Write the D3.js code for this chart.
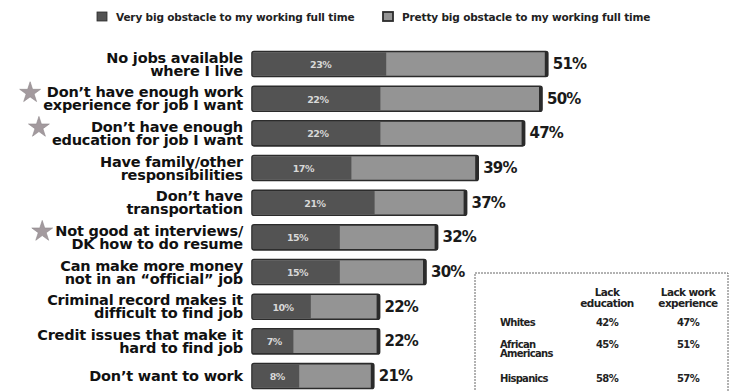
<!DOCTYPE html>
<html>
<head>
<meta charset="utf-8">
<script src="https://cdn.jsdelivr.net/npm/d3@7"></script>
<style>
  body { margin: 0; background: #fff; }
  svg text { font-family: "DejaVu Sans", "Liberation Sans", sans-serif; font-weight: bold; }
</style>
</head>
<body>
<div id="chart"></div>
<script>
// data
const categories = [
  "No jobs available|where I live",
  "Don’t have enough work|experience for job I want",
  "Don’t have enough|education for job I want",
  "Have family/other|responsibilities",
  "Don’t have|transportation",
  "Not good at interviews/|DK how to do resume",
  "Can make more money|not in an “official” job",
  "Criminal record makes it|difficult to find job",
  "Credit issues that make it|hard to find job",
  "Don’t want to work"
];
const totalObstacle = [51, 50, 47, 39, 37, 32, 30, 22, 22, 21];
const veryBig = [23, 22, 22, 17, 21, 15, 15, 10, 7, 8];
const starred = [1, 2, 5];
const seriesNames = ["Very big obstacle to my working full time", "Pretty big obstacle to my working full time"];

const tableHeads = ["Lack|education", "Lack work|experience"];
const tableGroups = ["Whites", "African|Americans", "Hispanics"];
const lackEducation = ["42%", "45%", "58%"];
const lackWork = ["47%", "51%", "57%"];

const width = 736, height = 391;
const darkGray = "#535353", lightGray = "#949494", edge = "#2b2b2b";

const svg = d3.select("#chart")
  .append("svg")
  .attr("width", width)
  .attr("height", height);

const y = d3.scaleBand()
  .domain(d3.range(categories.length))
  .range([46.7, 393.4])
  .paddingInner(0.28)
  .paddingOuter(0.14);

const x = d3.scaleLinear()
  .domain([0, 100])
  .range([252, 252 + 580]);

// legend
const legend = svg.append("g").attr("transform", "translate(97,12)");
const legX = [0, 286];
seriesNames.forEach((s, i) => {
  const g = legend.append("g").attr("transform", `translate(${legX[i]},0)`);
  g.append("rect").attr("width", 10).attr("height", 9)
    .attr("fill", i == 0 ? darkGray : lightGray)
    .attr("stroke", edge).attr("stroke-width", i == 0 ? 0.8 : 1.8);
  g.append("text").attr("x", 19).attr("y", 8.5)
    .attr("font-size", 10.5).attr("letter-spacing", -0.15)
    .attr("fill", "#222").text(s);
});

// bars
const rows = svg.append("g")
  .selectAll("g")
  .data(categories.map((c, i) => ({c, i, total: totalObstacle[i], very: veryBig[i]})))
  .join("g");

rows.append("rect")
  .attr("x", x(0))
  .attr("y", d => y(d.i))
  .attr("width", d => x(d.total) - x(0))
  .attr("height", y.bandwidth())
  .attr("rx", 2)
  .attr("fill", lightGray)
  .attr("stroke", edge)
  .attr("stroke-width", 1.6);

rows.append("rect")
  .attr("x", x(0) + 0.8)
  .attr("y", d => y(d.i) + 0.8)
  .attr("width", d => x(d.very) - x(0))
  .attr("height", y.bandwidth() - 1.6)
  .attr("fill", darkGray);

// right end darker cap
rows.append("rect")
  .attr("x", d => x(d.total) - 3)
  .attr("y", d => y(d.i))
  .attr("width", 3)
  .attr("height", y.bandwidth())
  .attr("fill", edge);

rows.append("text")
  .attr("x", d => (x(0) + x(d.very)) / 2 + 2)
  .attr("y", d => y(d.i) + y.bandwidth() / 2 + 4)
  .attr("text-anchor", "middle")
  .attr("font-size", 9.5)
  .attr("letter-spacing", -0.5)
  .attr("fill", "#d8d8d8")
  .text(d => d.very + "%");

rows.append("text")
  .attr("x", d => x(d.total) + 5)
  .attr("y", d => y(d.i) + y.bandwidth() / 2 + 5)
  .attr("font-size", 15)
  .attr("letter-spacing", -0.8)
  .attr("fill", "#1a1a1a")
  .text(d => d.total + "%");

// category labels
const labels = rows.append("text")
  .attr("text-anchor", "end")
  .attr("font-size", 14.5)
  .attr("letter-spacing", -0.2)
  .attr("fill", "#111");

labels.each(function (d) {
  const lines = d.c.split("|");
  const cy = y(d.i) + y.bandwidth() / 2;
  d3.select(this).selectAll("tspan")
    .data(lines)
    .join("tspan")
    .attr("x", 243)
    .attr("y", (l, j) => lines.length == 1 ? cy + 5 : cy - 1.5 + j * 13)
    .text(l => l);
});

// stars next to starred rows
labels.filter(d => starred.includes(d.i)).each(function (d) {
  const b = this.getBBox();
  svg.append("path")
    .attr("d", d3.symbol().type(d3.symbolStar).size(135))
    .attr("transform", `translate(${b.x - 13},${y(d.i) + y.bandwidth() / 2 - 6})`)
    .attr("fill", "#a39a9e")
    .attr("stroke", "#8d878a")
    .attr("stroke-width", 0.6);
});

// table
const tbl = svg.append("g");
tbl.append("rect")
  .attr("x", 475).attr("y", 273)
  .attr("width", 253).attr("height", 140)
  .attr("fill", "none")
  .attr("stroke", "#555")
  .attr("stroke-width", 0.9)
  .attr("stroke-dasharray", "2,1");

const colX = d3.scalePoint().domain(tableHeads).range([607, 688]);
tableHeads.forEach(h => {
  h.split("|").forEach((l, j) => {
    tbl.append("text")
      .attr("x", colX(h)).attr("y", 296 + j * 11)
      .attr("text-anchor", "middle")
      .attr("font-size", 10.5).attr("letter-spacing", -0.6)
      .attr("fill", "#222").text(l);
  });
});

const rowY = d3.scalePoint().domain(tableGroups).range([326, 382]);
tableGroups.forEach((g, i) => {
  const base = rowY(g) - (i == 1 ? 6 : 0);
  g.split("|").forEach((l, j) => {
    tbl.append("text")
      .attr("x", 500).attr("y", base + j * 9)
      .attr("font-size", 10).attr("letter-spacing", -0.7)
      .attr("fill", "#222").text(l);
  });
  [lackEducation[i], lackWork[i]].forEach((v, k) => {
    tbl.append("text")
      .attr("x", colX(tableHeads[k])).attr("y", base)
      .attr("text-anchor", "middle")
      .attr("font-size", 10).attr("letter-spacing", -0.6)
      .attr("fill", "#222").text(v);
  });
});
</script>
</body>
</html>
